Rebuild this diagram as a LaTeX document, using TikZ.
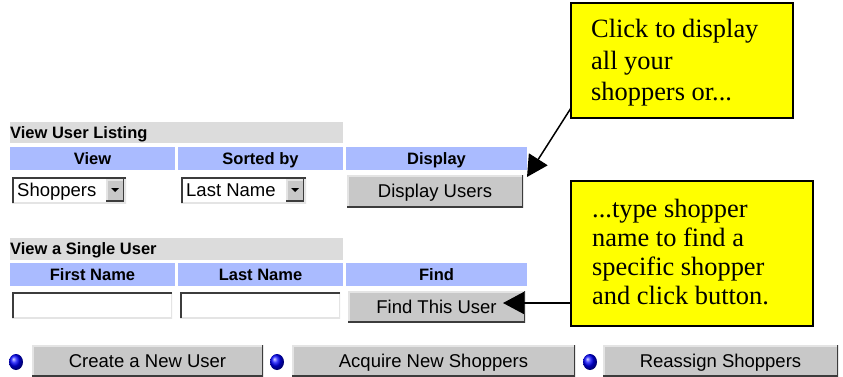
\documentclass[tikz,border=0pt]{standalone}
\usepackage{fontspec}
\setmainfont{Liberation Serif}
\newfontfamily\uifont{Liberation Sans}
\usetikzlibrary{arrows.meta,calc,shapes.geometric}
\definecolor{barGray}{RGB}{220,220,220}
\definecolor{hdrBlue}{RGB}{170,187,255}
\definecolor{btnGray}{RGB}{200,200,200}
\definecolor{edgeDark}{RGB}{60,60,60}
\definecolor{edgeLight}{RGB}{228,228,228}
\definecolor{calloutYellow}{RGB}{255,255,0}
\begin{document}
\begin{tikzpicture}[x=1pt,y=-1pt,
  box/.style={rectangle, inner sep=0pt, outer sep=0pt, anchor=north west},
  bar/.style={box, fill=barGray},
  hdr/.style={box, fill=hdrBlue, font=\uifont\bfseries\fontsize{16.5}{18}\selectfont,
    text height=15.3pt, text depth=3.5pt},
  bartext/.style={anchor=west, inner sep=0pt, text height=15.3pt, text depth=3.5pt,
    font=\uifont\bfseries\fontsize{16.5}{18}\selectfont},
  uitext/.style={anchor=west, inner sep=0pt, text height=17.2pt, text depth=4pt,
    font=\uifont\fontsize{18.5}{20}\selectfont},
  uibtn/.style={box, fill=btnGray, font=\uifont\fontsize{18.5}{20}\selectfont,
    text height=17.2pt, text depth=4pt,
    path picture={
      \draw[edgeLight, line width=3pt] (path picture bounding box.south west) -- (path picture bounding box.north west) -- (path picture bounding box.north east);
      \draw[edgeDark, line width=3pt] (path picture bounding box.north east) -- (path picture bounding box.south east) -- (path picture bounding box.south west);}},
  sunken/.style={box, fill=white,
    path picture={
      \draw[edgeLight, line width=3pt] (path picture bounding box.north east) -- (path picture bounding box.south east) -- (path picture bounding box.south west);
      \draw[edgeDark, line width=3pt] (path picture bounding box.south west) -- (path picture bounding box.north west) -- (path picture bounding box.north east);}},
  callout/.style={box, fill=calloutYellow, draw=black, line width=2pt},
  callouttext/.style={anchor=north west, inner sep=0pt, align=left},
  bullet/.style={ellipse, inner sep=0pt, minimum width=14pt, minimum height=16pt, ball color=blue},
  pointer/.style={line width=1.5pt, -{Triangle[length=21pt,width=22pt]}}
]
\useasboundingbox (0,0) rectangle (843,377);
\fill[white] (0,0) rectangle (843,377);

% ---- View User Listing ----
\node[bar, minimum width=333pt, minimum height=21pt] (bar1) at (10,122) {};
\node[bartext] (bar1t) at (10,132.5) {View User Listing};
\node[hdr, minimum width=165pt, minimum height=23pt] (h1a) at (10,147) {View};
\node[hdr, minimum width=165pt, minimum height=23pt] (h1b) at (178,147) {Sorted by};
\node[hdr, minimum width=181pt, minimum height=23pt] (h1c) at (346,147) {Display};

\node[sunken, minimum width=114pt, minimum height=26pt] (sel1) at (12,177) {};
\node[uitext] (sel1t) at (17,190) {Shoppers};
\node[uibtn, minimum width=18pt, minimum height=22pt] (sel1a) at (106,179) {};
\fill ($(sel1a.center)+(-4,-2)$) -- ++(8,0) -- ++(-4,4) -- cycle;

\node[sunken, minimum width=125pt, minimum height=26pt] (sel2) at (181,177) {};
\node[uitext] (sel2t) at (186,190) {Last Name};
\node[uibtn, minimum width=18pt, minimum height=22pt] (sel2a) at (286,179) {};
\fill ($(sel2a.center)+(-4,-2)$) -- ++(8,0) -- ++(-4,4) -- cycle;

\node[uibtn, minimum width=176pt, minimum height=32pt] (disp) at (347,175) {Display Users};

% ---- View a Single User ----
\node[bar, minimum width=333pt, minimum height=22pt] (bar2) at (10,238) {};
\node[bartext] (bar2t) at (10,249) {View a Single User};
\node[hdr, minimum width=165pt, minimum height=23pt] (h2a) at (10,263) {First Name};
\node[hdr, minimum width=165pt, minimum height=23pt] (h2b) at (178,263) {Last Name};
\node[hdr, minimum width=181pt, minimum height=23pt] (h2c) at (346,263) {Find};

\node[sunken, minimum width=160pt, minimum height=26pt] (in1) at (12,292) {};
\node[sunken, minimum width=160pt, minimum height=26pt] (in2) at (180,292) {};
\node[uibtn, minimum width=177pt, minimum height=31pt] (find) at (348,291) {Find This User};

% ---- bottom buttons ----
\node[bullet] (b1) at (16,362) {};
\node[uibtn, minimum width=231pt, minimum height=31pt] (btn1) at (32,345) {Create a New User};
\node[bullet] (b2) at (277,362) {};
\node[uibtn, minimum width=283pt, minimum height=31pt] (btn2) at (292,345) {Acquire New Shoppers};
\node[bullet] (b3) at (590,362) {};
\node[uibtn, minimum width=235pt, minimum height=31pt] (btn3) at (603,345) {Reassign Shoppers};

% ---- callouts ----
\node[callout, minimum width=222pt, minimum height=115pt] (c1) at (571,3) {};
\node[callouttext, font=\fontsize{26.4}{31.7}\selectfont] (c1t) at (591,19) {Click to display\\all your\\shoppers or...};
\node[callout, minimum width=242pt, minimum height=145pt] (c2) at (571,181) {};
\node[callouttext, font=\fontsize{26.4}{29}\selectfont] (c2t) at (592,199) {...type shopper\\name to find a\\specific shopper\\and click button.};

% ---- pointers ----
\coordinate (a1s) at ($(c1.south west)+(0,-10)$);
\coordinate (a1e) at ($(disp.north east)+(4,2)$);
\draw[pointer] (a1s) -- (a1e);
\coordinate (a2s) at ($(c2.south west)+(0,-23)$);
\coordinate (a2e) at ($(find.east)+(-22,-3.5)$);
\draw[pointer] (a2s) -- (a2e);
\end{tikzpicture}
\end{document}
